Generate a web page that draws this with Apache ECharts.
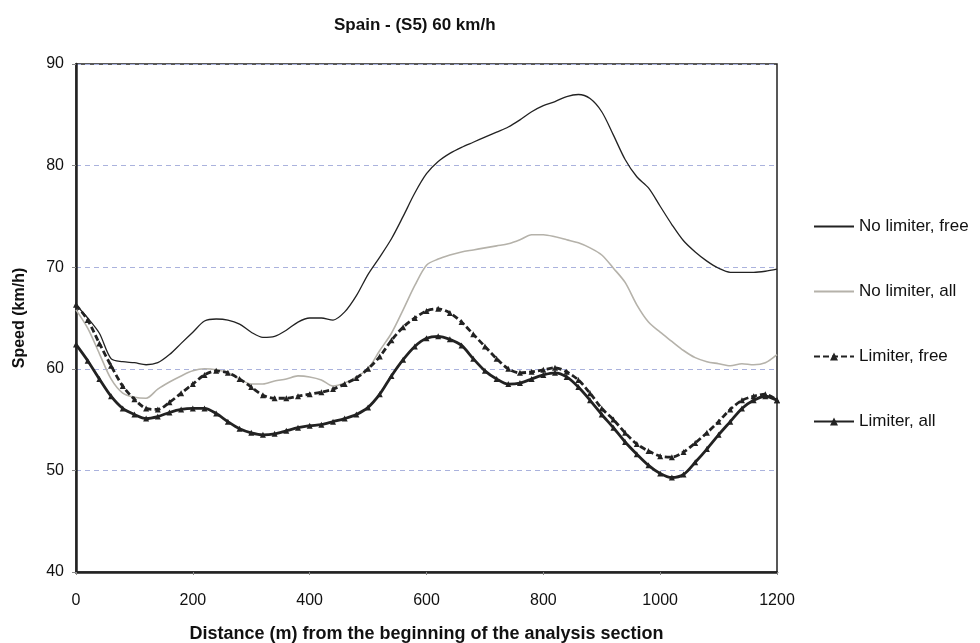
<!DOCTYPE html>
<html>
<head>
<meta charset="utf-8">
<script src="https://cdn.jsdelivr.net/npm/echarts@6/dist/echarts.min.js"></script>
<style>
  html, body { margin: 0; padding: 0; background: #fff; }
  #chart { width: 980px; height: 643px; }
</style>
</head>
<body>
<div id="chart"></div>
<script>
// distance along the section (m), every 20 m
const distance = [
    0, 20, 40, 60, 80, 100, 120, 140, 160, 180,
    200, 220, 240, 260, 280, 300, 320, 340, 360, 380,
    400, 420, 440, 460, 480, 500, 520, 540, 560, 580,
    600, 620, 640, 660, 680, 700, 720, 740, 760, 780,
    800, 820, 840, 860, 880, 900, 920, 940, 960, 980,
    1000, 1020, 1040, 1060, 1080, 1100, 1120, 1140, 1160, 1180, 1200
]
const noLimiterFree = [
    66.3, 65.0, 63.5, 61.0, 60.7, 60.6, 60.4, 60.6, 61.4, 62.5,
    63.6, 64.7, 64.9, 64.8, 64.4, 63.6, 63.1, 63.2, 63.8, 64.6,
    65.0, 65.0, 64.8, 65.6, 67.2, 69.3, 71.0, 72.8, 75.0, 77.3,
    79.2, 80.4, 81.2, 81.8, 82.3, 82.8, 83.3, 83.8, 84.5, 85.3,
    85.9, 86.3, 86.8, 87.0, 86.6, 85.3, 83.0, 80.6, 78.9, 77.8,
    76.0, 74.2, 72.6, 71.5, 70.6, 69.9, 69.5, 69.5, 69.5, 69.6, 69.8
]
const noLimiterAll = [
    65.8, 64.0, 61.5, 59.0, 57.6, 57.2, 57.1, 58.0, 58.7, 59.3,
    59.8, 60.0, 59.9, 59.6, 59.0, 58.5, 58.5, 58.8, 59.0, 59.3,
    59.2, 58.9, 58.3, 58.6, 59.2, 60.0, 61.8, 63.5, 65.8, 68.2,
    70.2, 70.8, 71.2, 71.5, 71.7, 71.9, 72.1, 72.3, 72.7, 73.2,
    73.2, 73.0, 72.7, 72.4, 71.9, 71.2, 69.9, 68.5, 66.3, 64.6,
    63.6, 62.7, 61.8, 61.1, 60.7, 60.5, 60.3, 60.5, 60.4, 60.6, 61.4
]
const limiterFree = [
    66.3, 64.8, 62.5, 60.3, 58.3, 57.0, 56.1, 56.0, 56.7, 57.6,
    58.5, 59.4, 59.8, 59.6, 59.0, 58.2, 57.4, 57.1, 57.1, 57.3,
    57.5, 57.7, 58.0, 58.5, 59.1, 60.0, 61.2, 62.8, 64.1, 65.0,
    65.7, 65.9, 65.5, 64.6, 63.4, 62.2, 61.0, 60.0, 59.6, 59.7,
    59.9, 60.1, 59.7, 58.9, 57.6, 56.1, 55.0, 53.7, 52.6, 51.9,
    51.4, 51.3, 51.8, 52.7, 53.7, 54.8, 56.0, 56.9, 57.3, 57.5, 56.9
]
const limiterAll = [
    62.4, 60.8, 59.0, 57.3, 56.1, 55.5, 55.1, 55.3, 55.7, 56.0,
    56.1, 56.1, 55.6, 54.8, 54.1, 53.7, 53.5, 53.6, 53.9, 54.2,
    54.4, 54.5, 54.8, 55.1, 55.5, 56.2, 57.5, 59.3, 60.9, 62.2,
    63.0, 63.2, 62.9, 62.3, 61.0, 59.8, 59.0, 58.5, 58.6, 59.0,
    59.4, 59.6, 59.2, 58.2, 56.9, 55.5, 54.2, 52.8, 51.6, 50.5,
    49.7, 49.3, 49.6, 50.8, 52.1, 53.5, 54.8, 56.1, 56.9, 57.3, 56.9
]
const seriesNames = ['No limiter, free', 'No limiter, all', 'Limiter, free', 'Limiter, all']

function pairs(values) {
    return distance.map(function (d, i) { return [d, values[i]] })
}

const font = 'Liberation Sans, Arial, sans-serif'
const chart = echarts.init(document.getElementById('chart'))
chart.setOption({
    animation: false,
    backgroundColor: '#fff',
    textStyle: { fontFamily: font },
    title: {
        text: 'Spain - (S5) 60 km/h',
        left: 329,
        top: 12,
        textStyle: { fontSize: 17, fontWeight: 'bold', color: '#111', fontFamily: font }
    },
    grid: {
        left: 76,
        right: 203,
        top: 64,
        bottom: 71,
        outerBoundsMode: 'none',
        containLabel: false,
        show: true,
        borderColor: '#222',
        borderWidth: 1.5
    },
    legend: {
        orient: 'vertical',
        left: 808,
        top: 213,
        itemWidth: 40,
        itemHeight: 10,
        itemGap: 48,
        textStyle: { fontSize: 17, color: '#111', fontFamily: font },
        data: [
            { name: seriesNames[0], itemStyle: { opacity: 0 } },
            { name: seriesNames[1], itemStyle: { opacity: 0 } },
            { name: seriesNames[2] },
            { name: seriesNames[3] }
        ]
    },
    xAxis: {
        type: 'value',
        min: 0,
        max: 1200,
        interval: 200,
        name: 'Distance (m) from the beginning of the analysis section',
        nameLocation: 'middle',
        nameGap: 53,
        nameTextStyle: { fontSize: 18, fontWeight: 'bold', color: '#111' },
        axisLine: { lineStyle: { color: '#222', width: 2.5 } },
        axisTick: { show: true, length: 3, lineStyle: { color: '#888' } },
        axisLabel: {
            fontSize: 16,
            color: '#111',
            margin: 21,
            formatter: function (v) { return String(v) }
        },
        splitLine: { show: false }
    },
    yAxis: {
        type: 'value',
        min: 40,
        max: 90,
        interval: 10,
        name: 'Speed (km/h)',
        nameLocation: 'middle',
        nameGap: 48,
        nameTextStyle: { fontSize: 16, fontWeight: 'bold', color: '#111' },
        axisLine: { show: true, lineStyle: { color: '#222', width: 2.5 } },
        axisTick: { show: true, length: 4, lineStyle: { color: '#888' } },
        axisLabel: { fontSize: 16, color: '#111', margin: 12 },
        splitLine: { show: true, lineStyle: { color: '#aab2dd', type: [5, 4], width: 1 } }
    },
    series: [
        {
            name: seriesNames[0],
            type: 'line',
            smooth: 0.3,
            data: pairs(noLimiterFree),
            showSymbol: false,
            symbol: 'none',
            lineStyle: { color: '#222', width: 1.3 },
            itemStyle: { color: '#222' },
            z: 4
        },
        {
            name: seriesNames[1],
            type: 'line',
            smooth: 0.3,
            data: pairs(noLimiterAll),
            showSymbol: false,
            symbol: 'none',
            lineStyle: { color: '#b5b2aa', width: 1.6 },
            itemStyle: { color: '#b5b2aa' },
            z: 3
        },
        {
            name: seriesNames[2],
            type: 'line',
            smooth: 0.3,
            data: pairs(limiterFree),
            symbol: 'triangle',
            symbolSize: 6,
            lineStyle: { color: '#222', width: 2.8, type: [6, 3] },
            itemStyle: { color: '#222' },
            z: 5
        },
        {
            name: seriesNames[3],
            type: 'line',
            smooth: 0.3,
            data: pairs(limiterAll),
            symbol: 'triangle',
            symbolSize: 6,
            lineStyle: { color: '#222', width: 2.8 },
            itemStyle: { color: '#222' },
            z: 5
        }
    ]
})
</script>
</body>
</html>
